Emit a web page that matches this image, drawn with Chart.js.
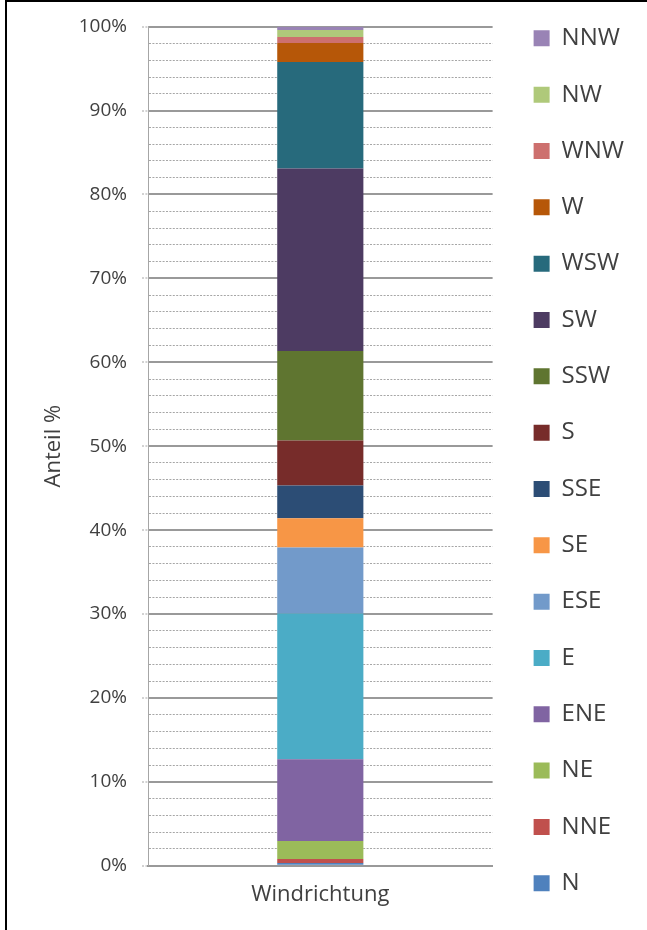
<!DOCTYPE html>
<html>
<head>
<meta charset="utf-8">
<script src="https://cdn.jsdelivr.net/npm/chart.js@4/dist/chart.umd.min.js"></script>
<style>
  html, body { margin: 0; padding: 0; background: #fff; }
  #wrap { position: relative; width: 647px; height: 930px; overflow: hidden; }
  #frame { position: absolute; left: 5px; top: 0; width: 700px; height: 960px;
           border-left: 2px solid #000; border-top: 2px solid #000; pointer-events: none; }
  canvas { position: absolute; left: 0; top: 0; }
</style>
</head>
<body>
<div id="wrap">
  <canvas id="myChart" width="647" height="930"></canvas>
  <div id="frame"></div>
</div>
<script>
const categories = ['Windrichtung'];
const directions = ['N', 'NNE', 'NE', 'ENE', 'E', 'ESE', 'SE', 'SSE', 'S', 'SSW', 'SW', 'WSW', 'W', 'WNW', 'NW', 'NNW'];
// share of each wind direction, percent
const shares = [0.32, 0.48, 2.14, 9.76, 17.37, 7.86, 3.47, 3.93, 5.35, 10.67, 21.75, 12.7, 2.26, 0.72, 0.82, 0.4];
const colors = ['#4f81bd', '#c0504d', '#9bbb59', '#8064a2', '#4bacc6', '#729aca', '#f79646', '#2c4d75',
                '#772c2a', '#5f7530', '#4d3b62', '#276a7c', '#b65708', '#cd706e', '#afc97a', '#9983b5'];

const textColor = '#404040';
const gridColor = '#a6a6a6';
const majorColor = '#999999';
const fontFamily = 'Open Sans';

const ctx = document.getElementById('myChart').getContext('2d');

const datasets = directions.map((d, i) => ({
    label: d,
    data: [shares[i]],
    backgroundColor: colors[i],
    borderWidth: 0,
    barPercentage: 0.25,
    categoryPercentage: 1,
    yAxisID: 'y'
}));

new Chart(ctx, {
    type: 'bar',
    data: { labels: categories, datasets: datasets },
    options: {
        responsive: false,
        animation: false,
        layout: { padding: { top: 16, right: 13, bottom: 0, left: 0 } },
        plugins: {
            tooltip: { enabled: false },
            title: { display: true, text: '', padding: { top: 0, bottom: 2.7 }, font: { size: 8, lineHeight: 1 } },
            legend: {
                position: 'right',
                align: 'start',
                reverse: true,
                maxWidth: 300,
                labels: {
                    boxWidth: 16,
                    boxHeight: 16,
                    padding: 10.33,
                    color: textColor,
                    font: { family: fontFamily, size: 24, lineHeight: 46 / 24 },
                    // text as one-line array so the row height follows lineHeight
                    generateLabels: chart => Chart.defaults.plugins.legend.labels.generateLabels(chart)
                        .map(l => Object.assign({}, l, { text: [l.text] }))
                }
            }
        },
        scales: {
            x: {
                stacked: true,
                grid: { display: false },
                border: { display: true, color: majorColor, width: 2 },
                ticks: { padding: 8, color: textColor, font: { family: fontFamily, size: 22 } },
                afterFit: s => { s.height = 64.3; }
            },
            y: {
                type: 'linear',
                position: 'left',
                stacked: true,
                weight: 1,
                min: 0,
                max: 100,
                ticks: {
                    stepSize: 10,
                    padding: 15,
                    color: textColor,
                    font: { family: fontFamily, size: 19 },
                    callback: v => v + '%'
                },
                grid: {
                    color: majorColor,
                    lineWidth: 2,
                    tickLength: 6,
                    tickColor: gridColor,
                    tickWidth: 1,
                    tickBorderDash: [2, 1.4]
                },
                border: { display: false },
                title: {
                    display: true,
                    text: 'Anteil %',
                    color: textColor,
                    font: { family: fontFamily, size: 22 },
                    padding: { top: 40.6, bottom: 0 }
                },
                afterFit: s => { s.width = 148; }
            },
            yMinor: {
                type: 'linear',
                axis: 'y',
                position: 'left',
                weight: 0,
                min: 0,
                max: 100,
                ticks: { display: false, stepSize: 2 },
                grid: {
                    drawTicks: false,
                    lineWidth: 1,
                    color: c => (c.tick && c.tick.value % 10 === 0) ? 'rgba(0,0,0,0)' : gridColor
                },
                border: { display: true, color: gridColor, width: 1, dash: [2, 1.4] },
                afterFit: s => { s.width = 0; }
            },
            gap: {
                type: 'linear',
                axis: 'y',
                position: 'right',
                grid: { display: false },
                ticks: { display: false },
                border: { display: false },
                afterFit: s => { s.width = 30.67; }
            }
        }
    }
});
</script>
</body>
</html>
